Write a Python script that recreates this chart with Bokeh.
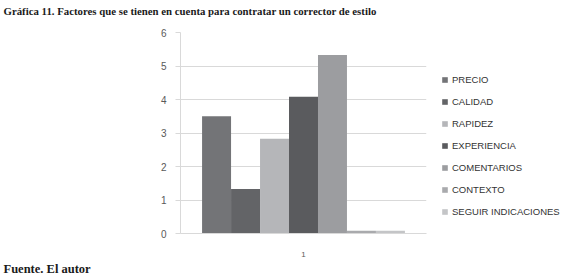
from bokeh.plotting import figure
from bokeh.layouts import row
from bokeh.models import ColumnDataSource, Legend, LegendItem, Title, FactorRange
from bokeh.transform import dodge
from bokeh.embed import file_html
from bokeh.resources import INLINE

# data
category = ["1"]
series = ["PRECIO", "CALIDAD", "RAPIDEZ", "EXPERIENCIA", "COMENTARIOS", "CONTEXTO", "SEGUIR INDICACIONES"]
values = [3.5, 1.33, 2.83, 4.08, 5.33, 0.08, 0.08]
colors = ["#737477", "#636467", "#b5b6b9", "#5a5b5e", "#9c9da0", "#a9aaad", "#c4c5c7"]
y_ticks = [0, 1, 2, 3, 4, 5, 6]

title_text = "Gráfica 11. Factores que se tienen en cuenta para contratar un corrector de estilo"
footer_text = "Fuente. El autor"

H = 276
p = figure(width=430, height=H, x_range=FactorRange(factors=category, range_padding=0),
           y_range=(0, 6), output_backend="svg", toolbar_location=None,
           min_border_left=180, min_border_right=4, min_border_top=32, min_border_bottom=40)
p.outline_line_color = None
p.background_fill_color = "white"

data = {"x": category}
for s, v in zip(series, values):
    data[s] = [v]
src = ColumnDataSource(data)

n = len(series)
bw = 0.1178
for i, (s, c) in enumerate(zip(series, colors)):
    p.vbar(x=dodge("x", (i - (n - 1) / 2) * bw, range=p.x_range), top=s, width=bw,
           source=src, fill_color=c, line_color=None)

# axes
p.yaxis.ticker = y_ticks
p.yaxis.axis_line_color = "#d9d9d9"
p.yaxis.major_tick_line_color = "#d9d9d9"
p.yaxis.major_tick_out = 5
p.yaxis.major_tick_in = 0
p.yaxis.minor_tick_line_color = None
p.yaxis.major_label_text_font = "Liberation Sans"
p.yaxis.major_label_text_font_size = "10px"
p.yaxis.major_label_text_color = "#595959"
p.yaxis.major_label_standoff = 9

p.xaxis.axis_line_color = "#d9d9d9"
p.xaxis.major_tick_line_color = None
p.xaxis.minor_tick_line_color = None
p.xaxis.major_label_text_font = "Liberation Sans"
p.xaxis.major_label_text_font_size = "8px"
p.xaxis.major_label_text_color = "#595959"
p.xaxis.major_label_standoff = 12

p.xgrid.grid_line_color = None
p.ygrid.grid_line_color = "#d9d9d9"

# blank spacer title next to the frame, real title outside it
spacer = Title(text=" ", text_font_size="8px", standoff=5)
p.add_layout(spacer, "above")
t = Title(text=title_text, align="left", offset=-177, text_font="Liberation Serif",
          text_font_size="10.8px", text_font_style="bold", text_color="#1a1a1a", standoff=0)
p.add_layout(t, "above")

f = Title(text=footer_text, align="left", offset=-177, text_font="Liberation Serif",
          text_font_size="12.5px", text_font_style="bold", text_color="#1a1a1a", standoff=1)
p.add_layout(f, "below")

# legend panel
pl = figure(width=134, height=H, x_range=(0, 1), y_range=(0, 1), output_backend="svg",
            toolbar_location=None, x_axis_location=None, y_axis_location=None,
            min_border=0, min_border_left=0, min_border_right=0, min_border_top=0, min_border_bottom=0)
pl.outline_line_color = None
pl.grid.visible = False
items = []
for s, c in zip(series, colors):
    # zero-width carrier glyph: only its legend swatch is seen
    r = pl.vbar(x=0, bottom=0, top=s, width=0, source=src, fill_color=c, line_color=None)
    items.append(LegendItem(label=s, renderers=[r]))

legend = Legend(items=items, location=(11, 16), glyph_width=7, glyph_height=7, label_height=7,
                spacing=11, padding=0, margin=0, label_standoff=4,
                border_line_color=None, background_fill_alpha=0,
                label_text_font="Liberation Sans", label_text_font_size="9.5px",
                label_text_color="#333333")
pl.add_layout(legend, "center")

layout = row(p, pl, spacing=0)
open("out.html", "w").write(file_html(layout, INLINE))
